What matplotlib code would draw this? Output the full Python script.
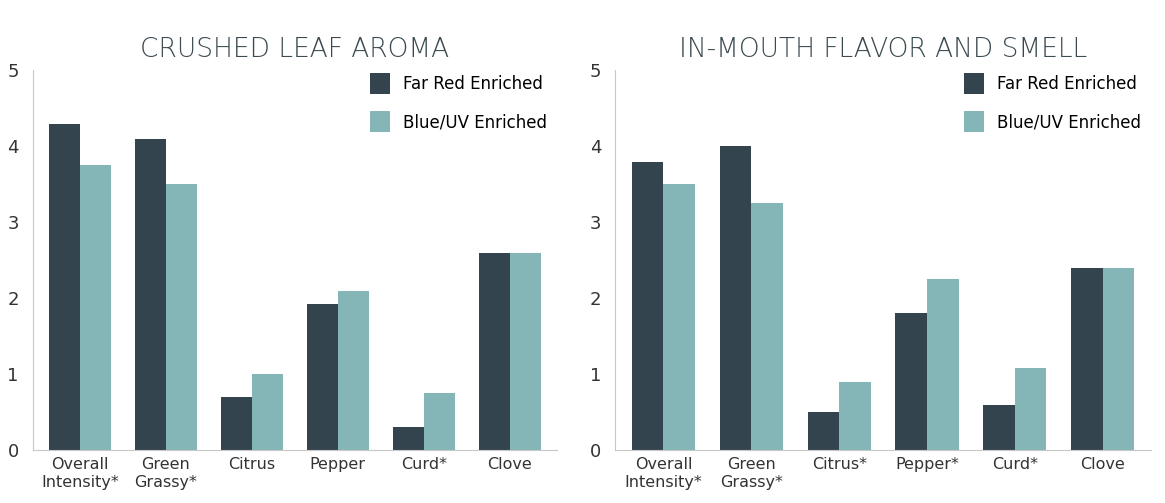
import matplotlib.pyplot as plt
import numpy as np

plt.rcParams['font.family'] = ['Liberation Sans Narrow', 'DejaVu Sans']

cats_left = ['Overall\nIntensity*', 'Green\nGrassy*', 'Citrus', 'Pepper', 'Curd*', 'Clove']
cats_right = ['Overall\nIntensity*', 'Green\nGrassy*', 'Citrus*', 'Pepper*', 'Curd*', 'Clove']
far_red_left = [4.3, 4.1, 0.7, 1.93, 0.3, 2.6]
blue_uv_left = [3.75, 3.5, 1.0, 2.1, 0.75, 2.6]
far_red_right = [3.8, 4.0, 0.5, 1.8, 0.6, 2.4]
blue_uv_right = [3.5, 3.25, 0.9, 2.25, 1.08, 2.4]

dark = '#34444f'
teal = '#84b5b7'
grey = '#c8c8c8'

fig = plt.figure(figsize=(11.65, 5.03), dpi=100)
panels = [
    ([0.028, 0.105, 0.45, 0.755], 'CRUSHED LEAF AROMA', cats_left, far_red_left, blue_uv_left),
    ([0.528, 0.105, 0.46, 0.755], 'IN-MOUTH FLAVOR AND SMELL', cats_right, far_red_right, blue_uv_right),
]
for rect, title, cats, fr, bu in panels:
    ax = fig.add_axes(rect)
    x = np.arange(len(cats))
    w = 0.36
    ax.bar(x - w/2, fr, w, color=dark, label='Far Red Enriched')
    ax.bar(x + w/2, bu, w, color=teal, label='Blue/UV Enriched')
    ax.set_xlim(-0.55, len(cats) - 0.45)
    ax.set_ylim(0, 5)
    ax.set_yticks(range(6))
    ax.set_xticks(x)
    ax.set_xticklabels(cats, fontsize=11.5, color='#333333')
    ax.tick_params(axis='y', labelsize=13, colors='#333333', length=0, pad=10)
    ax.tick_params(axis='x', length=0, pad=5)
    for s in ['top', 'right']:
        ax.spines[s].set_visible(False)
    for s in ['left', 'bottom']:
        ax.spines[s].set_color(grey)
    ax.set_title(title, fontsize=19, color='#3a4a50', pad=10,
                 family=['DejaVu Sans'], fontweight='light')
    ax.legend(loc='upper right', frameon=False, fontsize=12, handlelength=1.2,
              handleheight=1.6, labelspacing=1.0, borderaxespad=0.2,
              bbox_to_anchor=(1.0, 1.02))

fig.savefig('out.png', dpi=100)
